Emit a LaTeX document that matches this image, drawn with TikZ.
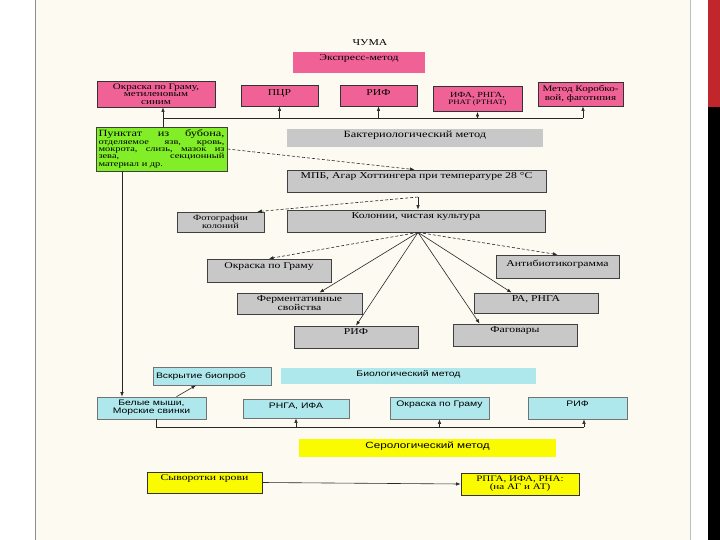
\documentclass[tikz,border=0pt]{standalone}
\usepackage{fontspec}
\setmainfont{Liberation Serif}[FakeStretch=1.3]
\newfontfamily\bsans{Liberation Sans}[FakeStretch=1.3]
\usetikzlibrary{arrows.meta}
\definecolor{beige}{RGB}{252,250,241}
\definecolor{pinkb}{RGB}{240,98,150}
\definecolor{greyb}{RGB}{200,200,200}
\definecolor{greenb}{RGB}{130,238,40}
\definecolor{cyanb}{RGB}{175,232,236}
\definecolor{yellowb}{RGB}{250,250,0}
\definecolor{redbar}{RGB}{192,38,44}
\tikzset{
  bx/.style={rectangle, inner sep=1pt, font=\fontsize{9}{9}\selectfont, align=center},
  wh/.style 2 args={minimum width=#1pt, minimum height=#2pt},
  txtd/.style={text height=6.5pt, text depth=#1},
  pinkbox/.style={bx, fill=pinkb, draw=black!80, line width=0.9pt},
  pinkplain/.style={bx, fill=pinkb},
  greybox/.style={bx, fill=greyb, draw=black!75, line width=0.8pt},
  greyplain/.style={bx, fill=greyb},
  greenbox/.style={bx, fill=greenb, draw=black!75, line width=0.8pt},
  cyanbox/.style={bx, fill=cyanb, draw=black!55, line width=0.7pt, font=\bsans\fontsize{8}{8}\selectfont},
  cyanplain/.style={bx, fill=cyanb, font=\bsans\fontsize{8}{8}\selectfont},
  yellowbox/.style={bx, fill=yellowb, draw=black!80, line width=0.8pt},
  yellowplain/.style={bx, fill=yellowb},
  conn/.style={line width=0.6pt, draw=black!85},
  arr/.style={conn, -{Latex[length=4.5pt,width=3.5pt]}},
  darr/.style={arr, dash pattern=on 3pt off 2pt},
}
\begin{document}
\begin{tikzpicture}[x=1pt,y=-1pt]
\useasboundingbox (0,0) rectangle (720,540);
% page background
\fill[white] (0,0) rectangle (720,540);
\fill[beige] (35,0) rectangle (690,540);
\draw[black!45, line width=0.8pt] (35,0) -- (35,540);
\draw[black!25, line width=0.5pt] (690,0) -- (690,540);
\fill[redbar] (708,0) rectangle (720,107);
\fill[black] (708,107) rectangle (720,540);

% title and express method
\node[bx] (chuma) at (370,43) {ЧУМА};
\node[pinkplain, wh={132}{21}, txtd=9.5pt] (exp) at (359,62.5) {Экспресс-метод};
\node[pinkbox, wh={118}{26}, font=\fontsize{8.5}{7.5}\selectfont] (okr1) at (156,94) {Окраска по Граму,\\метиленовым\\синим};
\node[pinkbox, wh={77}{21}, txtd=5.5pt] (pcr) at (279.5,95.5) {ПЦР};
\node[pinkbox, wh={77}{21}, txtd=5.5pt] (rif1) at (378.5,95.5) {РИФ};
\node[pinkbox, wh={89}{25}, font=\fontsize{7.8}{6.5}\selectfont] (ifa) at (477.5,99) {ИФА, РНГА,\\{\fontsize{6.8}{6.5}\selectfont РНАТ (РТНАТ)}};
\node[pinkbox, wh={85}{24}, font=\fontsize{8.5}{8.5}\selectfont] (kor) at (580.5,94) {Метод Коробко-\\вой, фаготипия};

% material
\node[greenbox, wh={131}{44}, inner sep=1.5pt, align=left, font=\fontsize{8}{7.3}\selectfont] (green) at (161.5,149)
 {\hbox to 126pt{\fontsize{9.5}{7.3}\selectfont Пунктат\hfill из\hfill бубона,}\\
  \hbox to 126pt{отделяемое\hfill язв,\hfill кровь,}\\
  \hbox to 126pt{мокрота,\hfill слизь,\hfill мазок\hfill из}\\
  \hbox to 126pt{зева,\hfill секционный}\\
  материал и др.};

% bacteriological method
\node[greyplain, wh={256}{18}, txtd=6.5pt, font=\fontsize{9.5}{9.5}\selectfont] (bakt) at (415,138) {Бактериологический метод};
\node[greybox, wh={259}{22}, txtd=10.5pt] (mpb) at (416.5,181) {МПБ, Агар Хоттингера при температуре 28 °С};
\node[greybox, wh={258}{22}, txtd=11.5pt] (kol) at (416,221) {Колонии, чистая культура};
\node[greybox, wh={87}{20}, font=\fontsize{8}{8}\selectfont] (foto) at (220.5,222) {Фотографии\\колоний};
\node[greybox, wh={124}{23}, txtd=11.5pt] (gram2) at (269,270.5) {Окраска по Граму};
\node[greybox, wh={123}{23}, txtd=7.5pt] (anti) at (557.5,266.5) {Антибиотикограмма};
\node[greybox, wh={125}{21}] (ferm) at (299.5,303.5) {Ферментативные\\свойства};
\node[greybox, wh={124}{20}, txtd=10.5pt] (ra) at (536,303) {РА, РНГА};
\node[greybox, wh={124}{22}, txtd=12.5pt] (rif2) at (356,337) {РИФ};
\node[greybox, wh={124}{22}, txtd=12.5pt] (fag) at (515,335) {Фаговары};

% biological method
\node[cyanbox, wh={118}{18}, txtd=2.5pt] (vskr) at (212,376) {\makebox[112pt][l]{Вскрытие биопроб}};
\node[cyanplain, wh={255}{16}, txtd=6.5pt] (bio) at (408.5,376) {Биологический метод};
\node[cyanbox, wh={109}{22}] (mice) at (151.5,408) {Белые мыши,\\Морские свинки};
\node[cyanbox, wh={106}{19}, txtd=7.5pt] (rnga) at (296,408.5) {РНГА, ИФА};
\node[cyanbox, wh={99}{22}, txtd=10.5pt] (gram3) at (439.5,408) {Окраска по Граму};
\node[cyanbox, wh={99}{22}, txtd=10.5pt] (rif3) at (577.5,408) {РИФ};

% serological method
\node[yellowplain, wh={257}{18}, txtd=6.5pt, font=\bsans\fontsize{9}{9}\selectfont] (ser) at (427.5,448) {Серологический метод};
\node[yellowbox, wh={115}{21}, txtd=10.3pt] (syv) at (204.5,482.5) {Сыворотки крови};
\node[yellowbox, wh={118}{22}, font=\fontsize{8.5}{8}\selectfont] (rpga) at (520,484) {РПГА, ИФА, РНА:\\(на АГ и АТ)};

% connectors: express
\coordinate (j0) at (163,118);
\coordinate (j1) at (583,118);
\draw[arr] (green.north -| j0) -- (okr1.south -| j0);
\draw[conn] (j0) -- (j1);
\draw[arr] (j0 -| pcr) -- (pcr.south);
\draw[arr] (j0 -| rif1) -- (rif1.south);
\draw[arr] (j0 -| ifa) -- (ifa.south);
\draw[arr] (j1) -- (kor.south -| j1);

% connectors: bacteriological
\draw[darr] (green.east) -- ([xshift=-2pt]mpb.north);
\coordinate (h1) at (418,197);
\draw[arr] (h1) -- (kol.north -| h1);
\draw[darr] (h1) -- ([xshift=-7pt]foto.north east);
\coordinate (h2) at (kol.south -| h1);
\draw[darr] (h2) -- (gram2.north);
\draw[arr] (h2) -- ([xshift=20pt]ferm.north);
\draw[arr] (h2) -- (rif2.north);
\draw[arr] (h2) -- ([xshift=27pt]fag.north west);
\draw[arr] (h2) -- ([xshift=38pt]ra.north west);
\draw[darr] (h2) -- (anti.north);

% connectors: biological
\coordinate (g0) at (122,0);
\draw[arr] (green.south -| g0) -- (mice.north -| g0);
\draw[arr] ([xshift=25pt]mice.north) -- ([xshift=-16pt]vskr.south);
\coordinate (b0) at (156,427);
\coordinate (b1) at (584,427);
\draw[conn] (mice.south -| b0) -- (b0) -- (b1);
\draw[arr] (b0 -| rnga) -- (rnga.south);
\draw[arr] (b0 -| gram3) -- (gram3.south);
\draw[arr] (b1) -- (rif3.south -| b1);

% connectors: serological
\draw[arr] (syv.east) -- (rpga.west);
\end{tikzpicture}
\end{document}
